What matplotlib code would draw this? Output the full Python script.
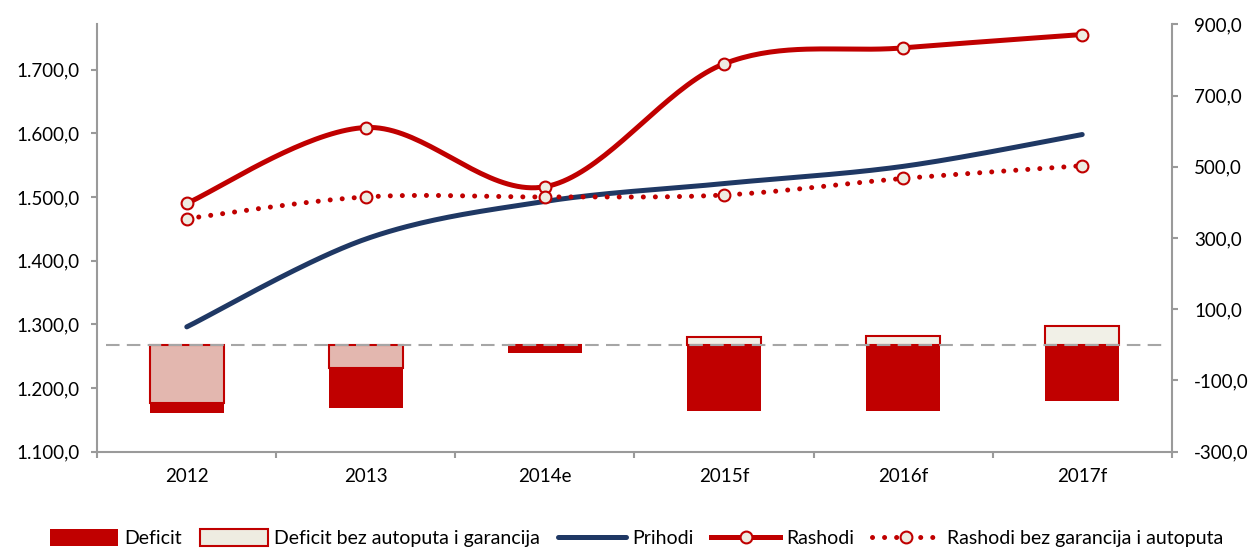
import numpy as np
import matplotlib
matplotlib.use("Agg")
import matplotlib.pyplot as plt
from matplotlib.lines import Line2D
from matplotlib.patches import Patch

plt.rcParams['font.family'] = ['Lato', 'DejaVu Sans']

# ---- data ----
categories = ["2012", "2013", "2014e", "2015f", "2016f", "2017f"]
deficit = [-191, -178, -22, -187, -185, -157]
deficit_bez = [-164, -65, 0, 21, 25, 53]
prihodi = [1296, 1434, 1493, 1521, 1548, 1598]
rashodi = [1490, 1609, 1516, 1709, 1734, 1755]
rashodi_bez = [1466, 1500, 1500, 1503, 1529, 1549]

left_ticks = [1100, 1200, 1300, 1400, 1500, 1600, 1700]
right_ticks = [-300, -100, 100, 300, 500, 700, 900]

RED = '#C00000'
NAVY = '#1F3864'
BEIGE = '#EEECE1'
GRID = '#A6A6A6'
SPINE = '#9A9A9A'


def smooth(xs, ys, n=40):
    """Excel-like smoothed line (cubic Bezier, Catmull-Rom tangents)."""
    P = np.column_stack([xs, ys]).astype(float)
    out = []
    m = len(P)
    for i in range(m - 1):
        p0 = P[i - 1] if i > 0 else P[i]
        p1 = P[i]
        p2 = P[i + 1]
        p3 = P[i + 2] if i + 2 < m else P[i + 1]
        c1 = p1 + (p2 - p0) / 6.0
        c2 = p2 - (p3 - p1) / 6.0
        t = np.linspace(0, 1, n)[:, None]
        seg = ((1 - t) ** 3) * p1 + 3 * ((1 - t) ** 2) * t * c1 + 3 * (1 - t) * t ** 2 * c2 + t ** 3 * p2
        out.append(seg if i == 0 else seg[1:])
    out = np.vstack(out)
    return out[:, 0], out[:, 1]


def fmt(v):
    s = f"{v:,.1f}"
    return s.replace(',', 'X').replace('.', ',').replace('X', '.')


fig = plt.figure(figsize=(12.5, 5.49), dpi=100)
ax = fig.add_axes([0.0778, 0.1772, 0.8596, 0.7785])
ax2 = ax.twinx()
ax.set_zorder(ax2.get_zorder() + 1)
ax.patch.set_visible(False)

x = np.arange(len(categories))

# ---- bars (right axis) ----
b1 = ax2.bar(x, deficit, width=0.41, color=RED, edgecolor='none', zorder=2, label='Deficit')
b2 = ax2.bar(x, deficit_bez, width=0.41, facecolor=(0.933, 0.925, 0.882, 0.78),
             edgecolor=RED, linewidth=1.5, zorder=3, label='Deficit bez autoputa i garancija')
ax2.axhline(0, xmin=0.008, xmax=0.992, color=GRID, lw=1.5, dashes=(6.5, 3.5), zorder=4)

# ---- lines (left axis) ----
sx, sy = smooth(x, prihodi)
ax.plot(sx, sy, color=NAVY, lw=3.6, solid_capstyle='round', zorder=3)

sx, sy = smooth(x, rashodi)
ax.plot(sx, sy, color=RED, lw=3.6, solid_capstyle='round', zorder=4)
ax.plot(x, rashodi, ls='none', marker='o', ms=8.5, mfc=BEIGE, mec=RED, mew=1.5, zorder=6)

sx, sy = smooth(x, rashodi_bez)
ax.plot(sx, sy, color=RED, lw=3.6, ls=(0, (0.01, 2.4)), dash_capstyle='round', zorder=4)
ax.plot(x, rashodi_bez, ls='none', marker='o', ms=8.5, mfc=BEIGE, mec=RED, mew=1.5, zorder=6)

# ---- axes styling ----
ax.set_xlim(-0.5, 5.5)
ax.set_ylim(1100, 1771)
ax2.set_ylim(-300, 900)

ax.set_yticks(left_ticks)
ax.set_yticklabels([fmt(v) for v in left_ticks])
ax2.set_yticks(right_ticks)
ax2.set_yticklabels([fmt(v) for v in right_ticks])

ax.set_xticks(np.arange(-0.5, 6.0, 1.0))
ax.set_xticklabels([''] * 7)
ax.set_xticks(x, minor=True)
ax.set_xticklabels(categories, minor=True)

for a in (ax, ax2):
    a.spines['top'].set_visible(False)
    for s in a.spines.values():
        s.set_color(SPINE)
        s.set_linewidth(1.5)
ax.spines['right'].set_visible(False)
ax2.spines['left'].set_visible(False)
ax2.spines['bottom'].set_visible(False)

ax.tick_params(axis='y', direction='out', length=4, width=1.5, color=SPINE, labelsize=13.5, pad=9, labelcolor='#000000')
ax2.tick_params(axis='y', direction='out', length=4, width=1.5, color=SPINE, labelsize=13.5, pad=12, labelcolor='#000000')
ax.tick_params(axis='x', which='major', direction='out', length=4, width=1.5, color=SPINE)
ax.tick_params(axis='x', which='minor', length=0, labelsize=13.5, pad=12, labelcolor='#000000')

# ---- legend ----
handles = [
    Patch(facecolor=RED, edgecolor='none'),
    Patch(facecolor=BEIGE, edgecolor=RED, linewidth=1.5),
    Line2D([], [], color=NAVY, lw=3.6, solid_capstyle='round'),
    Line2D([], [], color=RED, lw=3.6, marker='o', ms=8.5, mfc=BEIGE, mec=RED, mew=1.5),
    Line2D([], [], color=RED, lw=3.6, ls=(0, (0.01, 2.4)), dash_capstyle='round',
           marker='o', ms=8.5, mfc=BEIGE, mec=RED, mew=1.5),
]
labels = ['Deficit', 'Deficit bez autoputa i garancija', 'Prihodi', 'Rashodi',
          'Rashodi bez garancija i autoputa']
fig.legend(handles, labels, loc='center', bbox_to_anchor=(0.509, 0.020), ncol=5,
           frameon=False, fontsize=14, handlelength=3.5, handleheight=0.95,
           handletextpad=0.35, columnspacing=0.9, numpoints=1)

fig.savefig('out.png', dpi=100)
